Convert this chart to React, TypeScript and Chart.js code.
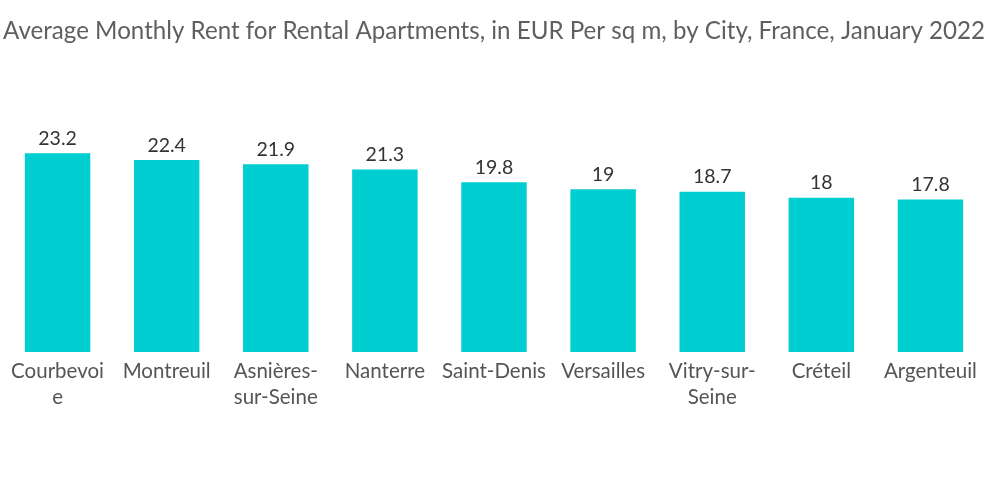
import React, { useEffect, useRef } from "react";
import { Chart, registerables } from "chart.js";

Chart.register(...registerables);

const titleText =
  "Average Monthly Rent for Rental Apartments, in EUR Per sq m, by City, France, January 2022";
const cities: (string | string[])[] = [
  ["Courbevoi", "e"],
  "Montreuil",
  ["Asnières-", "sur-Seine"],
  "Nanterre",
  "Saint-Denis",
  "Versailles",
  ["Vitry-sur-", "Seine"],
  "Créteil",
  "Argenteuil",
];
const rents = [23.2, 22.4, 21.9, 21.3, 19.8, 19, 18.7, 18, 17.8];

const FONT = "Lato, 'Open Sans', sans-serif";

const valueLabels = {
  id: "valueLabels",
  afterDatasetsDraw(chart: any) {
    const ctx = chart.ctx;
    const meta = chart.getDatasetMeta(0);
    ctx.save();
    ctx.font = `19.5px ${FONT}`;
    ctx.fillStyle = "#333333";
    ctx.textAlign = "center";
    ctx.textBaseline = "bottom";
    meta.data.forEach((el: any, i: number) => {
      ctx.fillText(String(rents[i]), el.x, el.y - 5);
    });
    ctx.restore();
  },
};

export default function App() {
  const ref = useRef<HTMLCanvasElement | null>(null);
  useEffect(() => {
    if (!ref.current) return;
    const chart = new Chart(ref.current, {
      type: "bar",
      data: {
        labels: cities,
        datasets: [
          {
            data: rents,
            backgroundColor: "#00CED1",
            borderWidth: 0,
            barPercentage: 0.6,
            categoryPercentage: 1,
          },
        ],
      },
      options: {
        animation: false,
        responsive: false,
        maintainAspectRatio: false,
        layout: { padding: { left: 3, right: 15, top: 0, bottom: 88 } },
        plugins: {
          legend: { display: false },
          tooltip: { enabled: false },
          title: {
            display: true,
            text: titleText,
            align: "start",
            color: "#5f5f5f",
            font: { family: FONT, size: 24.2, weight: "normal", lineHeight: 1.2 },
            padding: { top: 17, bottom: 66 },
          },
        },
        scales: {
          x: {
            grid: { display: false, drawTicks: false },
            border: { display: false },
            ticks: {
              color: "#555555",
              padding: 6,
              maxRotation: 0,
              autoSkip: false,
              font: { family: FONT, size: 20.5, lineHeight: 1.27 },
            },
          },
          y: {
            display: false,
            min: 0,
            max: 28,
          },
        },
      },
      plugins: [valueLabels],
    });
    return () => chart.destroy();
  }, []);
  return (
    <div style={{ position: "fixed", left: 0, top: 0, width: 1000, height: 504, background: "#fff" }}>
      <canvas ref={ref} width={1000} height={504} style={{ width: 1000, height: 504 }} />
    </div>
  );
}
